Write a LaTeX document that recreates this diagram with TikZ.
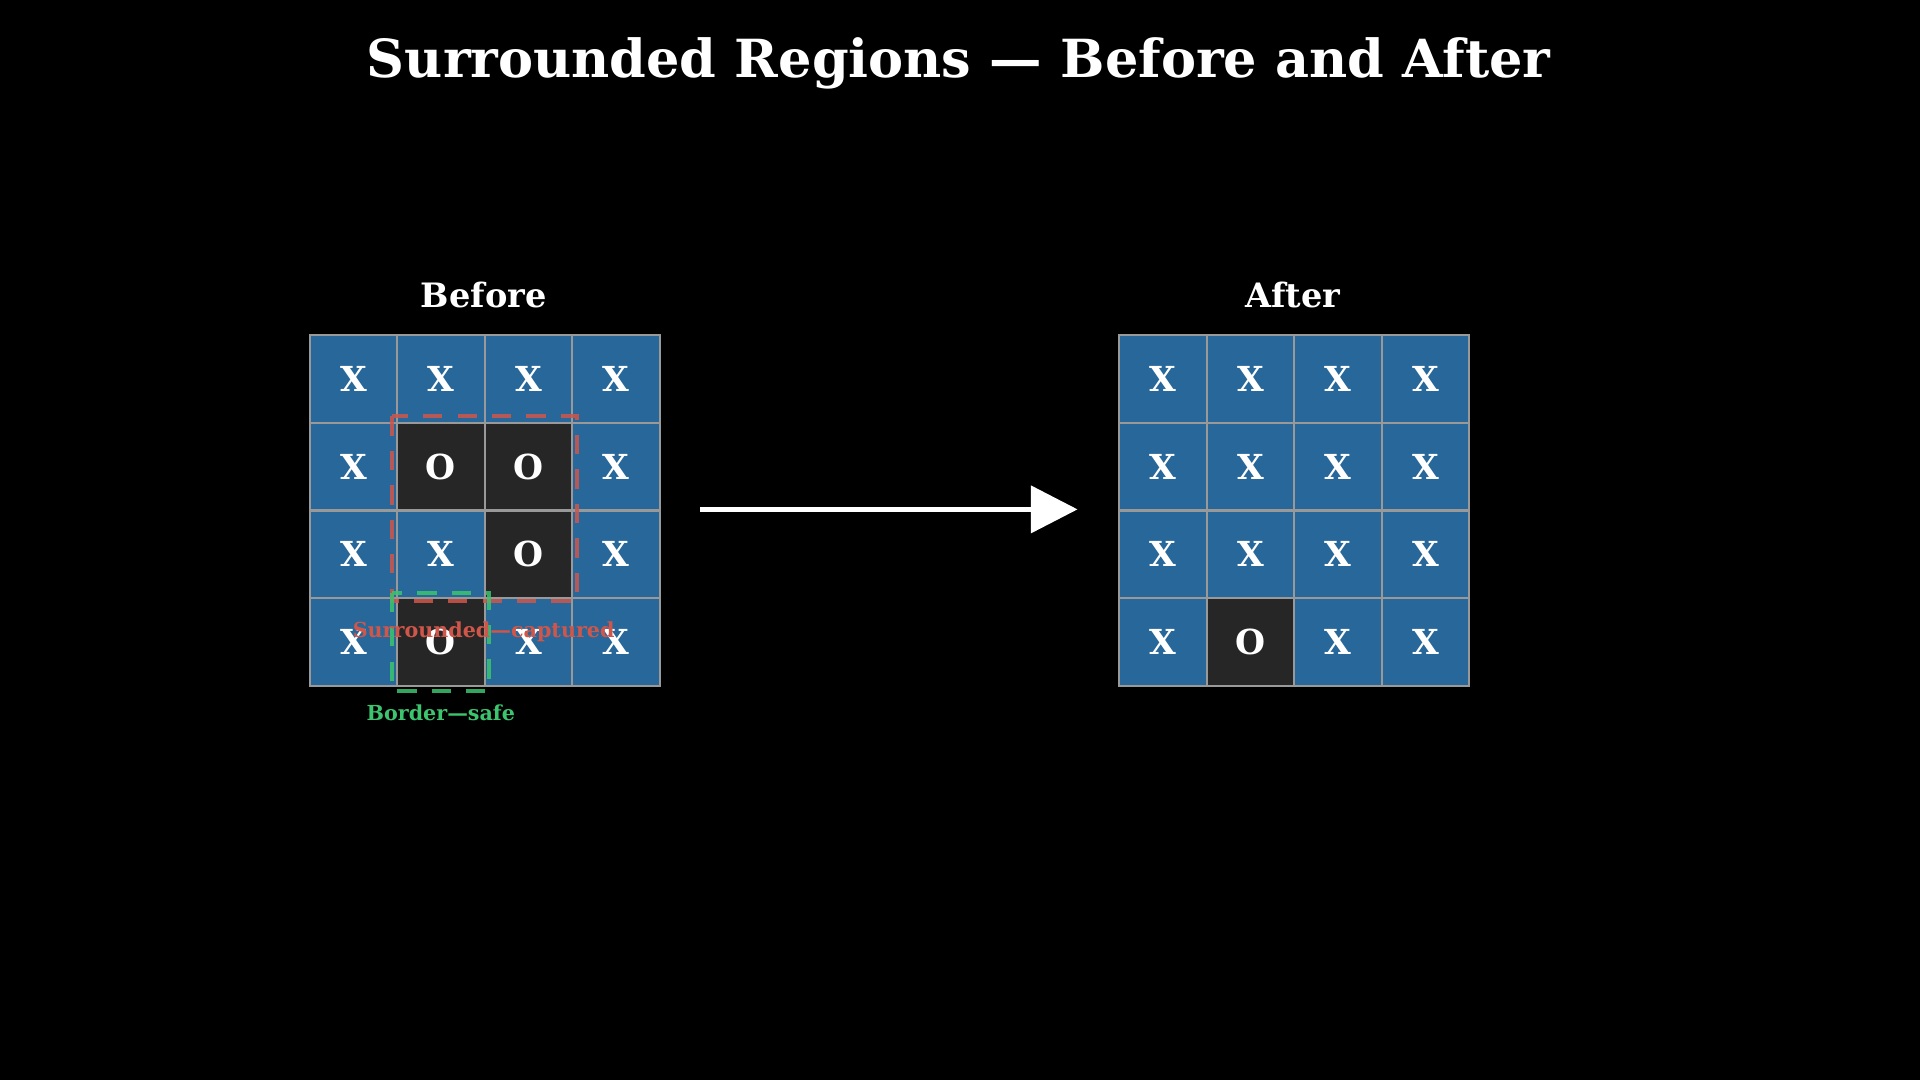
\documentclass[tikz,border=0pt]{standalone}
\usepackage{fontspec}
\setmainfont{DejaVu Serif}
\usetikzlibrary{arrows.meta,positioning}
\definecolor{cellx}{HTML}{27679A}
\definecolor{cello}{HTML}{262626}
\definecolor{capred}{HTML}{D0564A}
\definecolor{safegreen}{HTML}{3CC46E}
\tikzset{
  cell/.style={draw=gray!80, line width=0.5pt, minimum size=0.715cm, inner sep=0pt,
    text=white, font=\bfseries\fontsize{8}{8}\selectfont, anchor=north west},
  xcell/.style={cell, fill=cellx},
  ocell/.style={cell, fill=cello},
  heading/.style={text=white, font=\bfseries\fontsize{7.8}{8}\selectfont},
  region/.style={line width=0.9pt, draw opacity=0.85, dash pattern=on 4.5pt off 3.5pt}
}
\begin{document}
\begin{tikzpicture}[x=0.01cm,y=-0.01cm]
    \fill[black] (0,0) rectangle (1568,882);
    \useasboundingbox (0,0) rectangle (1568,882);

    % Titolo
    \node[text=white, font=\bfseries\fontsize{12.2}{13}\selectfont] (title) at (783,52) {Surrounded Regions — Before and After};

    % Griglie X
    \foreach \r in {0,1,2,3} {
        \foreach \c in {0,1,2,3} {
            \node[xcell] (b-\r-\c) at (252+71.5*\c,273+71.5*\r) {X};
            \node[xcell] (a-\r-\c) at (913+71.5*\c,273+71.5*\r) {X};
        }
    }
    % Celle O
    \foreach \r/\c in {1/1,1/2,2/2,3/1} {
        \node[ocell] (b-\r-\c) at (252+71.5*\c,273+71.5*\r) {O};
    }
    \node[ocell] (a-3-1) at (913+71.5,273+71.5*3) {O};

    \node[heading] (before) at (395,241) {Before};
    \node[heading] (after) at (1056,241) {After};

    % Regioni
    \draw[region, capred] (320,340) rectangle (471,491);
    \draw[region, safegreen] (320,484) rectangle (399,564);
    \node[text=capred, font=\bfseries\fontsize{4.8}{5}\selectfont] (caplbl) at (395,516) {Surrounded—captured};
    \node[text=safegreen, font=\bfseries\fontsize{4.8}{5}\selectfont] (safelbl) at (360,582) {Border—safe};

    % Freccia
    \coordinate (from) at (572,416);
    \coordinate (to) at (880,416);
    \draw[white, line width=1.2pt, -{Triangle[length=0.38cm,width=0.38cm]}] (from) -- (to);
\end{tikzpicture}
\end{document}
